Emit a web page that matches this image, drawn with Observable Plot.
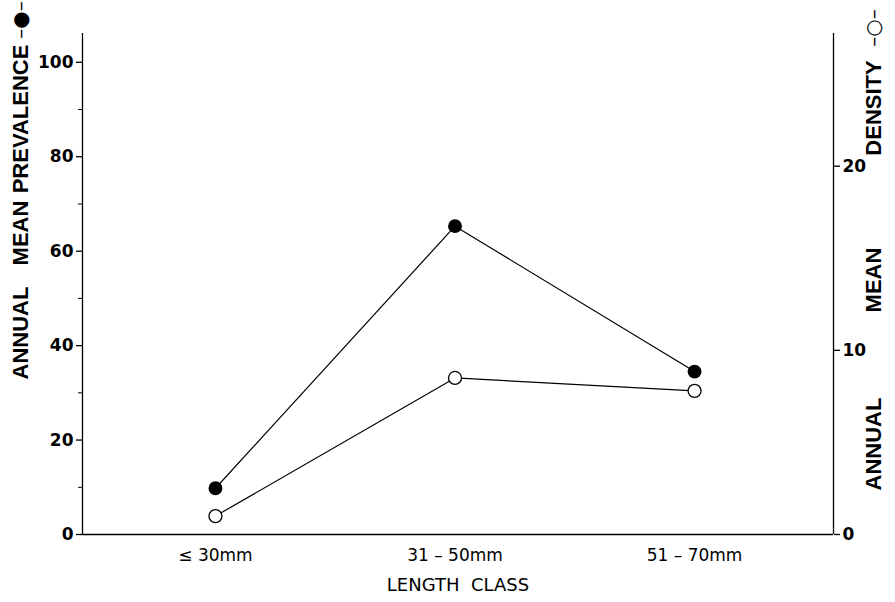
<!DOCTYPE html>
<html>
<head>
<meta charset="utf-8">
<script src="https://cdn.jsdelivr.net/npm/d3@7"></script>
<script src="https://cdn.jsdelivr.net/npm/@observablehq/plot@0.6"></script>
<style>
  body { margin: 0; background: #fff; }
  #chart svg text { white-space: pre; }
  g[aria-label="y-axis tick label"] text { font-weight: bold; }
</style>
</head>
<body>
<div id="chart"></div>
<script>
// ---- data ----
const lengthClasses = ["≤ 30mm", "31 – 50mm", "51 – 70mm"];
const prevalence = [9.8, 65.3, 34.5];      // annual mean prevalence (left axis)
const density = [1.0, 8.5, 7.8];           // annual mean density (right axis)
const prevalenceTicks = [0, 20, 40, 60, 80, 100];
const prevalenceMinorTicks = [10, 30, 50, 70, 90];
const densityTicks = [0, 10, 20];

// ---- scales ----
const k = 3.9;          // density units -> prevalence units (dual-axis ratio)
const yMax = 106.1;
const xLo = -0.555, xHi = 2.58;

const prevRows = lengthClasses.map((c, i) => ({ i, v: prevalence[i] }));
const densRows = lengthClasses.map((c, i) => ({ i, v: density[i] * k }));

const font = "DejaVu Sans";
const titleOpts = { text: d => d, rotate: -90, textAnchor: "middle", lineAnchor: "middle", fontSize: 22, fontWeight: "bold", fontFamily: "Liberation Sans" };
const leftT = (label, dy, extra = {}) => Plot.text([label], { ...titleOpts, frameAnchor: "left", dx: -62, dy, ...extra });
const rightT = (label, dy, extra = {}) => Plot.text([label], { ...titleOpts, frameAnchor: "right", dx: 40, dy, ...extra });

const chart = Plot.plot({
  width: 895,
  height: 602,
  marginLeft: 82,
  marginRight: 62,
  marginTop: 33,
  marginBottom: 68,
  style: { fontFamily: font, color: "#000", background: "#fff" },
  x: { domain: [xLo, xHi] },
  y: { domain: [0, yMax] },
  marks: [
    Plot.ruleY([0], { stroke: "#000", strokeWidth: 1.3 }),
    Plot.ruleX([xLo, xHi], { stroke: "#000", strokeWidth: 1.3 }),
    Plot.axisY({ ticks: prevalenceTicks, tickSize: 6, tickPadding: 3, fontSize: 17, label: null, stroke: "#000", strokeWidth: 1.3 }),
    Plot.axisY({ ticks: prevalenceMinorTicks, tickSize: 4, tickFormat: () => "", label: null, stroke: "#000" }),
    Plot.axisY({ anchor: "right", ticks: densityTicks.map(d => d * k), tickFormat: d => String(Math.round(d / k)),
                 tickSize: 6, tickPadding: 3, fontSize: 17, label: null, stroke: "#000", strokeWidth: 1.3 }),
    Plot.axisX({ ticks: [0, 1, 2], tickFormat: i => lengthClasses[i], tickSize: 0, tickPadding: 14, fontSize: 17, label: null }),
    Plot.lineY(prevRows, { x: "i", y: "v", stroke: "#000", strokeWidth: 1.2 }),
    Plot.lineY(densRows, { x: "i", y: "v", stroke: "#000", strokeWidth: 1.2 }),
    Plot.dot(prevRows, { x: "i", y: "v", r: 6.2, fill: "#000", stroke: "#000" }),
    Plot.dot(densRows, { x: "i", y: "v", r: 6.5, fill: "#fff", stroke: "#000", strokeWidth: 1.3 }),
    // axis titles
    Plot.text(["LENGTH  CLASS"], { text: d => d, frameAnchor: "bottom", lineAnchor: "middle", dy: 51, fontSize: 18 }),
    leftT("ANNUAL", 49),
    leftT("MEAN", -51),
    leftT("PREVALENCE", -165),
    leftT("–●–", -264, { fontWeight: "normal", fontSize: 20, fontFamily: font }),
    rightT("ANNUAL", 160),
    rightT("MEAN", -4),
    rightT("DENSITY", -176),
    rightT("–○–", -256, { fontWeight: "normal", fontSize: 20, fontFamily: font })
  ]
});
document.getElementById("chart").appendChild(chart);
</script>
</body>
</html>
